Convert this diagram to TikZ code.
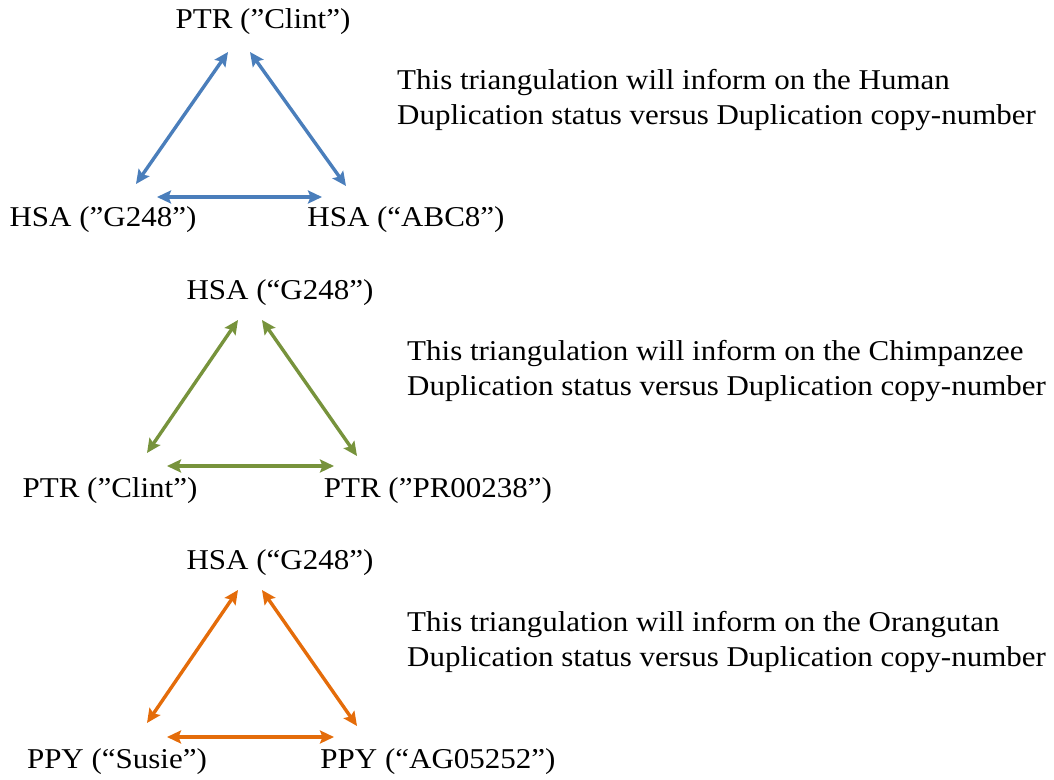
\documentclass[tikz,border=0pt]{standalone}
\usepackage{fontspec}
\setmainfont[FakeStretch=1.08]{Liberation Serif}
\usetikzlibrary{arrows.meta}
\definecolor{cblue}{HTML}{4A7EBB}
\definecolor{cgreen}{HTML}{77933C}
\definecolor{corange}{HTML}{E46C0A}
\tikzset{
  lbl/.style={inner sep=0pt, font=\fontsize{28.7bp}{34bp}\selectfont},
  note/.style={inner sep=0pt, anchor=west, align=left, font=\fontsize{28.7bp}{35bp}\selectfont},
  tip/.tip={Stealth[length=14bp,width=13bp,inset=2.5bp]},
  link/.style={line width=3.4bp, tip-tip},
}
\begin{document}
\begin{tikzpicture}[x=1bp,y=-1bp]
\useasboundingbox (0,0) rectangle (1054,780);
% Triangle 1
\node[lbl] (t1) at (263,22) {PTR (”Clint”)};
\node[lbl] (l1) at (103,220) {HSA (”G248”)};
\node[lbl] (r1) at (406,220) {HSA (“ABC8”)};
\node[note] (n1) at (397,100) {This triangulation will inform on the Human\\Duplication status versus Duplication copy-number};
\coordinate (t1a) at (228,52); \coordinate (l1a) at (136,184);
\coordinate (t1b) at (250,52); \coordinate (r1b) at (346,186);
\coordinate (l1c) at (157,197); \coordinate (r1c) at (322,197);
\draw[link, cblue] (t1a) -- (l1a);
\draw[link, cblue] (t1b) -- (r1b);
\draw[link, cblue] (l1c) -- (r1c);
% Triangle 2
\node[lbl] (t2) at (280,293) {HSA (“G248”)};
\node[lbl] (l2) at (110,491) {PTR (”Clint”)};
\node[lbl] (r2) at (438,491) {PTR (”PR00238”)};
\node[note] (n2) at (407,371) {This triangulation will inform on the Chimpanzee\\Duplication status versus Duplication copy-number};
\coordinate (t2a) at (238,320); \coordinate (l2a) at (147,453);
\coordinate (t2b) at (262,320); \coordinate (r2b) at (357,456);
\coordinate (l2c) at (167,466); \coordinate (r2c) at (334,466);
\draw[link, cgreen] (t2a) -- (l2a);
\draw[link, cgreen] (t2b) -- (r2b);
\draw[link, cgreen] (l2c) -- (r2c);
% Triangle 3
\node[lbl] (t3) at (280,563) {HSA (“G248”)};
\node[lbl] (l3) at (117,762) {PPY (“Susie”)};
\node[lbl] (r3) at (438,762) {PPY (“AG05252”)};
\node[note] (n3) at (407,642) {This triangulation will inform on the Orangutan\\Duplication status versus Duplication copy-number};
\coordinate (t3a) at (238,590); \coordinate (l3a) at (147,723);
\coordinate (t3b) at (262,590); \coordinate (r3b) at (357,726);
\coordinate (l3c) at (167,737); \coordinate (r3c) at (334,737);
\draw[link, corange] (t3a) -- (l3a);
\draw[link, corange] (t3b) -- (r3b);
\draw[link, corange] (l3c) -- (r3c);
\end{tikzpicture}
\end{document}
